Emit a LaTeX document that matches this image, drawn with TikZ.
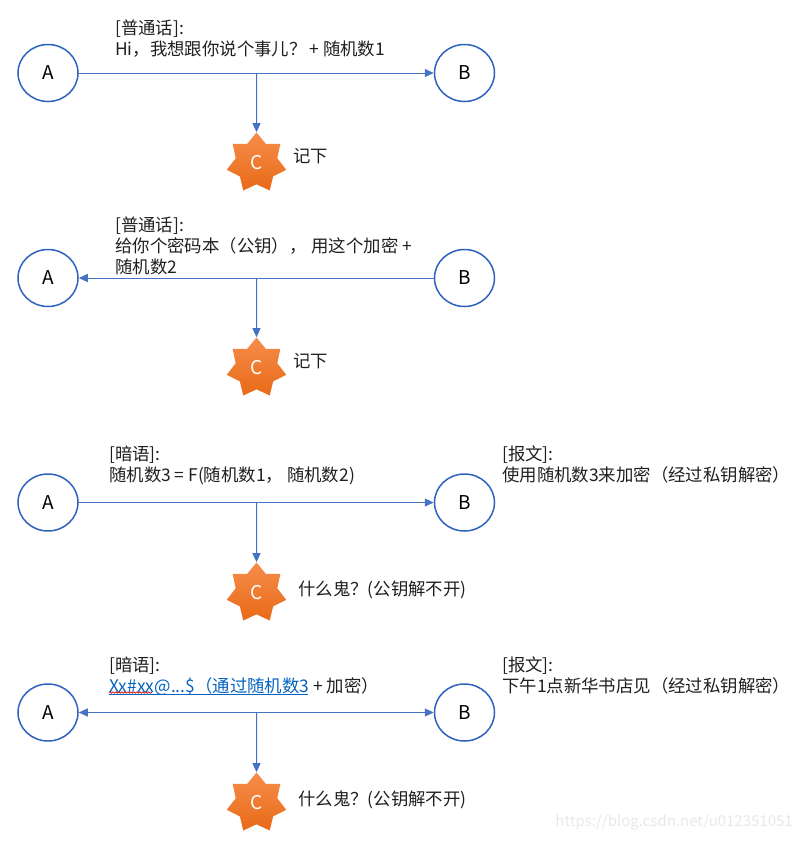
\documentclass[tikz,border=0pt]{standalone}
\usepackage{fontspec}
\setmainfont{Noto Sans CJK SC}
\usetikzlibrary{shapes.geometric,arrows.meta,decorations.pathmorphing}
\definecolor{ln}{HTML}{4472C4}
\definecolor{cir}{HTML}{2F62BE}
\definecolor{linkc}{HTML}{0563C1}
\definecolor{orange1}{HTML}{F68D4B}
\definecolor{orange2}{HTML}{E86A17}
\tikzset{
 x=1pt,y=-1pt,
 party/.style={ellipse,draw=cir,line width=1.5pt,fill=white,minimum width=60pt,minimum height=57pt,inner sep=0pt,font=\fontsize{19}{20}\selectfont},
 spy/.style={star,star points=7,star point ratio=1.43,minimum size=61pt,inner sep=0pt,draw=none,top color=orange1,bottom color=orange2,text=white,font=\fontsize{19}{20}\selectfont},
 lbl/.style={anchor=north west,inner sep=0pt,align=left,font=\fontsize{17.4}{21}\selectfont,text=black!88},
 wire/.style={draw=ln,line width=1pt},
 tip/.style={-{Triangle[length=9pt,width=8pt,fill=ln]}},
 bothtip/.style={{Triangle[length=9pt,width=8pt,fill=ln]}-{Triangle[length=9pt,width=8pt,fill=ln]}},
}
\begin{document}
\begin{tikzpicture}
\useasboundingbox (0,0) rectangle (801,841);
% row 1
\node[party] (a1) at (48,73) {A};
\node[party] (b1) at (464.5,73) {B};
\node[spy] (c1) at (256.5,163) {\raisebox{1.5pt}{C}};
\coordinate (j1) at (256.5,73);
\draw[wire,tip] (a1) -- (b1);
\draw[wire,tip] (j1) -- (c1.north);
\node[lbl] (t1) at (115,20) {[普通话]:\\Hi，我想跟你说个事儿？\,+ 随机数1};
\node[lbl] (n1) at (293,148) {记下};
% row 2
\node[party] (a2) at (48,278) {A};
\node[party] (b2) at (464.5,278) {B};
\node[spy] (c2) at (256.5,368) {\raisebox{1.5pt}{C}};
\coordinate (j2) at (256.5,278);
\draw[wire,tip] (b2) -- (a2);
\draw[wire,tip] (j2) -- (c2.north);
\node[lbl] (t2) at (115,217) {[普通话]:\\给你个密码本（公钥），\hspace{5pt}用这个加密 +\\随机数2};
\node[lbl] (n2) at (293,353) {记下};
% row 3
\node[party] (a3) at (48,502.5) {A};
\node[party] (b3) at (464.5,502.5) {B};
\node[spy] (c3) at (256.5,593) {\raisebox{1.5pt}{C}};
\coordinate (j3) at (256.5,503);
\draw[wire,tip] (a3) -- (b3);
\draw[wire,tip] (j3) -- (c3.north);
\node[lbl] (t3) at (109,446) {[暗语]:\\随机数3 = F(随机数1， 随机数2)};
\node[lbl] (r3) at (502,446) {[报文]:\\使用随机数3来加密（经过私钥解密）};
\node[lbl] (n3) at (298,581) {什么鬼？(公钥解不开)};
% row 4
\node[party] (a4) at (48,712.5) {A};
\node[party] (b4) at (464.5,712.5) {B};
\node[spy] (c4) at (256.5,803) {\raisebox{1.5pt}{C}};
\coordinate (j4) at (256.5,713);
\draw[wire,bothtip] (a4) -- (b4);
\draw[wire,tip] (j4) -- (c4.north);
\node[lbl] (t4) at (109,657) {[暗语]:\\\textcolor{linkc}{Xx\#xx@...\$（通过随机数3} + 加密）};
\node[lbl] (r4) at (502,657) {[报文]:\\下午1点新华书店见（经过私钥解密）};
\node[lbl] (n4) at (298,791) {什么鬼？(公钥解不开)};
\coordinate (u1) at (109,694);
\coordinate (u2) at (308,694);
\coordinate (w1) at (109,692.5);
\coordinate (w2) at (152,692.5);
\draw[linkc,line width=1pt] (u1) -- (u2);
\draw[red!85!black,line width=.7pt,decorate,decoration={snake,amplitude=.7pt,segment length=3pt}] (w1) -- (w2);
% watermark
\node[anchor=east,inner sep=0pt,font=\fontsize{15}{18}\selectfont,text=black!9] (wm) at (793,822) {https://blog.csdn.net/u012351051};
\end{tikzpicture}
\end{document}
